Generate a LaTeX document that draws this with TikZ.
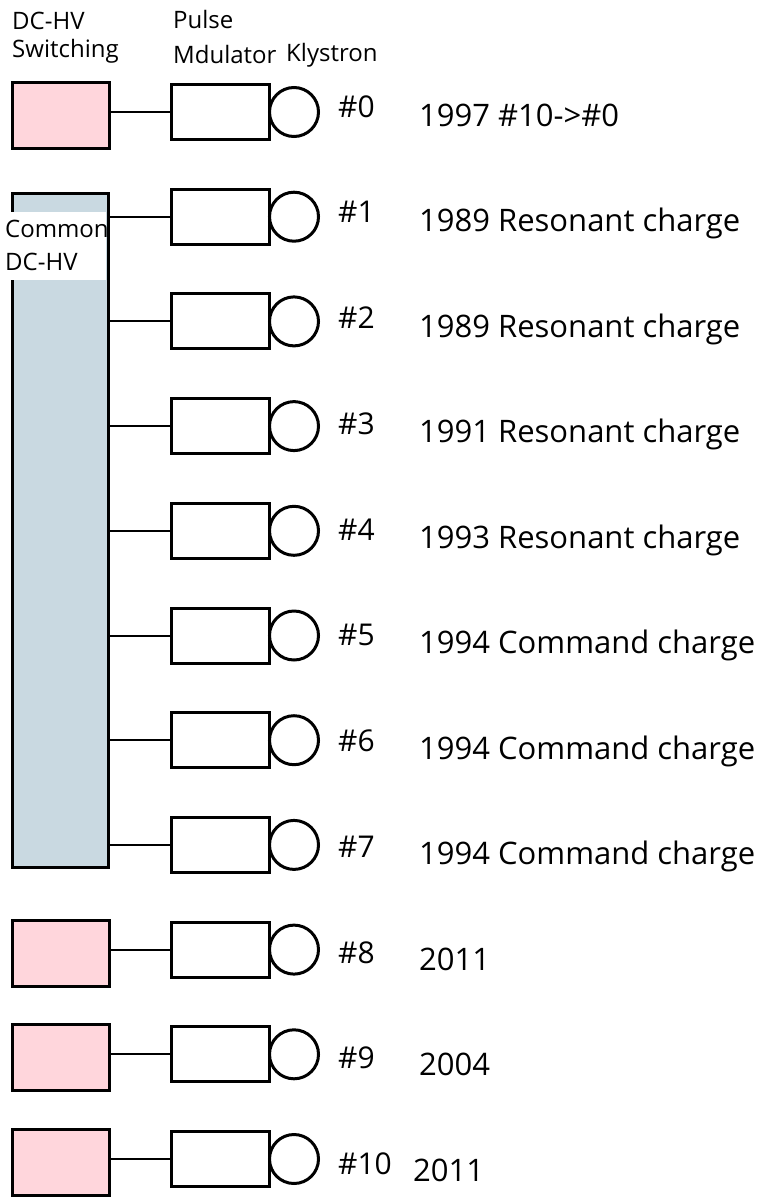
\documentclass[tikz,border=0pt]{standalone}
\usepackage{fontspec}
\setmainfont{Open Sans}
\usetikzlibrary{positioning}
\definecolor{hvpink}{HTML}{FFD6DC}
\definecolor{hvblue}{HTML}{C9D9E1}
\tikzset{
  unit/.style={draw,line width=3pt,inner sep=0pt,outer sep=0pt},
  swbox/.style={unit,fill=hvpink,minimum width=97pt,minimum height=66pt},
  modbox/.style={unit,minimum width=98pt,minimum height=55pt},
  kly/.style={unit,circle,minimum size=49pt},
  wire/.style={line width=2pt},
  head/.style={anchor=base west,inner sep=0pt,font=\fontsize{24}{28}\selectfont},
  tag/.style={anchor=base west,inner sep=0pt,font=\fontsize{30}{36}\selectfont},
  note/.style={anchor=base west,inner sep=0pt,font=\fontsize{31}{37}\selectfont},
}

\begin{document}
\begin{tikzpicture}[x=1pt,y=-1pt]
  \useasboundingbox (0,0) rectangle (761,1197);
  % column heads
  \node[head] (h1a) at (12,29) {DC-HV};
  \node[head] (h1b) at (12,57) {Switching};
  \node[head] (h2a) at (173,28) {Pulse};
  \node[head] (h2b) at (173,63) {Mdulator};
  \node[head] (h3) at (286,61) {Klystron};

  % common supply for #1 - #7
  \node[unit,fill=hvblue,minimum width=96pt,minimum height=674pt] (common) at (60.5,530.5) {};
  \node[fill=white,inner sep=0pt,minimum width=106pt,minimum height=68pt] (commonlbl) at (53,246) {};
  \node[head] (c1) at (5,237) {Common};
  \node[head] (c2) at (5,270) {DC-HV};

  % modulator + klystron rows
  \foreach \i in {0,...,10}{
    \node[modbox] (mod\i) at (220.5,{112+104.7*\i}) {};
    \node[kly,right=0pt of mod\i] (kly\i) {};
    \node[tag] (tag\i) at (338,{117+105.75*\i}) {\#\i};
  }
  \foreach \i in {1,...,7}
    \draw[wire] (common.east |- mod\i.west) -- (mod\i.west);

  % own switching supplies
  \foreach \i in {0,8,9,10}{
    \node[swbox] (sw\i) at (60.5,{115.5+104.7*\i}) {};
    \draw[wire] (sw\i.east |- mod\i.west) -- (mod\i.west);
  }

  \foreach \i/\txt in {0/1997 \#10->\#0, 1/1989 Resonant charge,
      2/1989 Resonant charge, 3/1991 Resonant charge, 4/1993 Resonant charge,
      5/1994 Command charge, 6/1994 Command charge, 7/1994 Command charge,
      8/2011, 9/2004}
    \node[note] (note\i) at (419,{126+105.5*\i}) {\txt};
  \node[note] (note10) at (413,1181) {2011};
\end{tikzpicture}
\end{document}
